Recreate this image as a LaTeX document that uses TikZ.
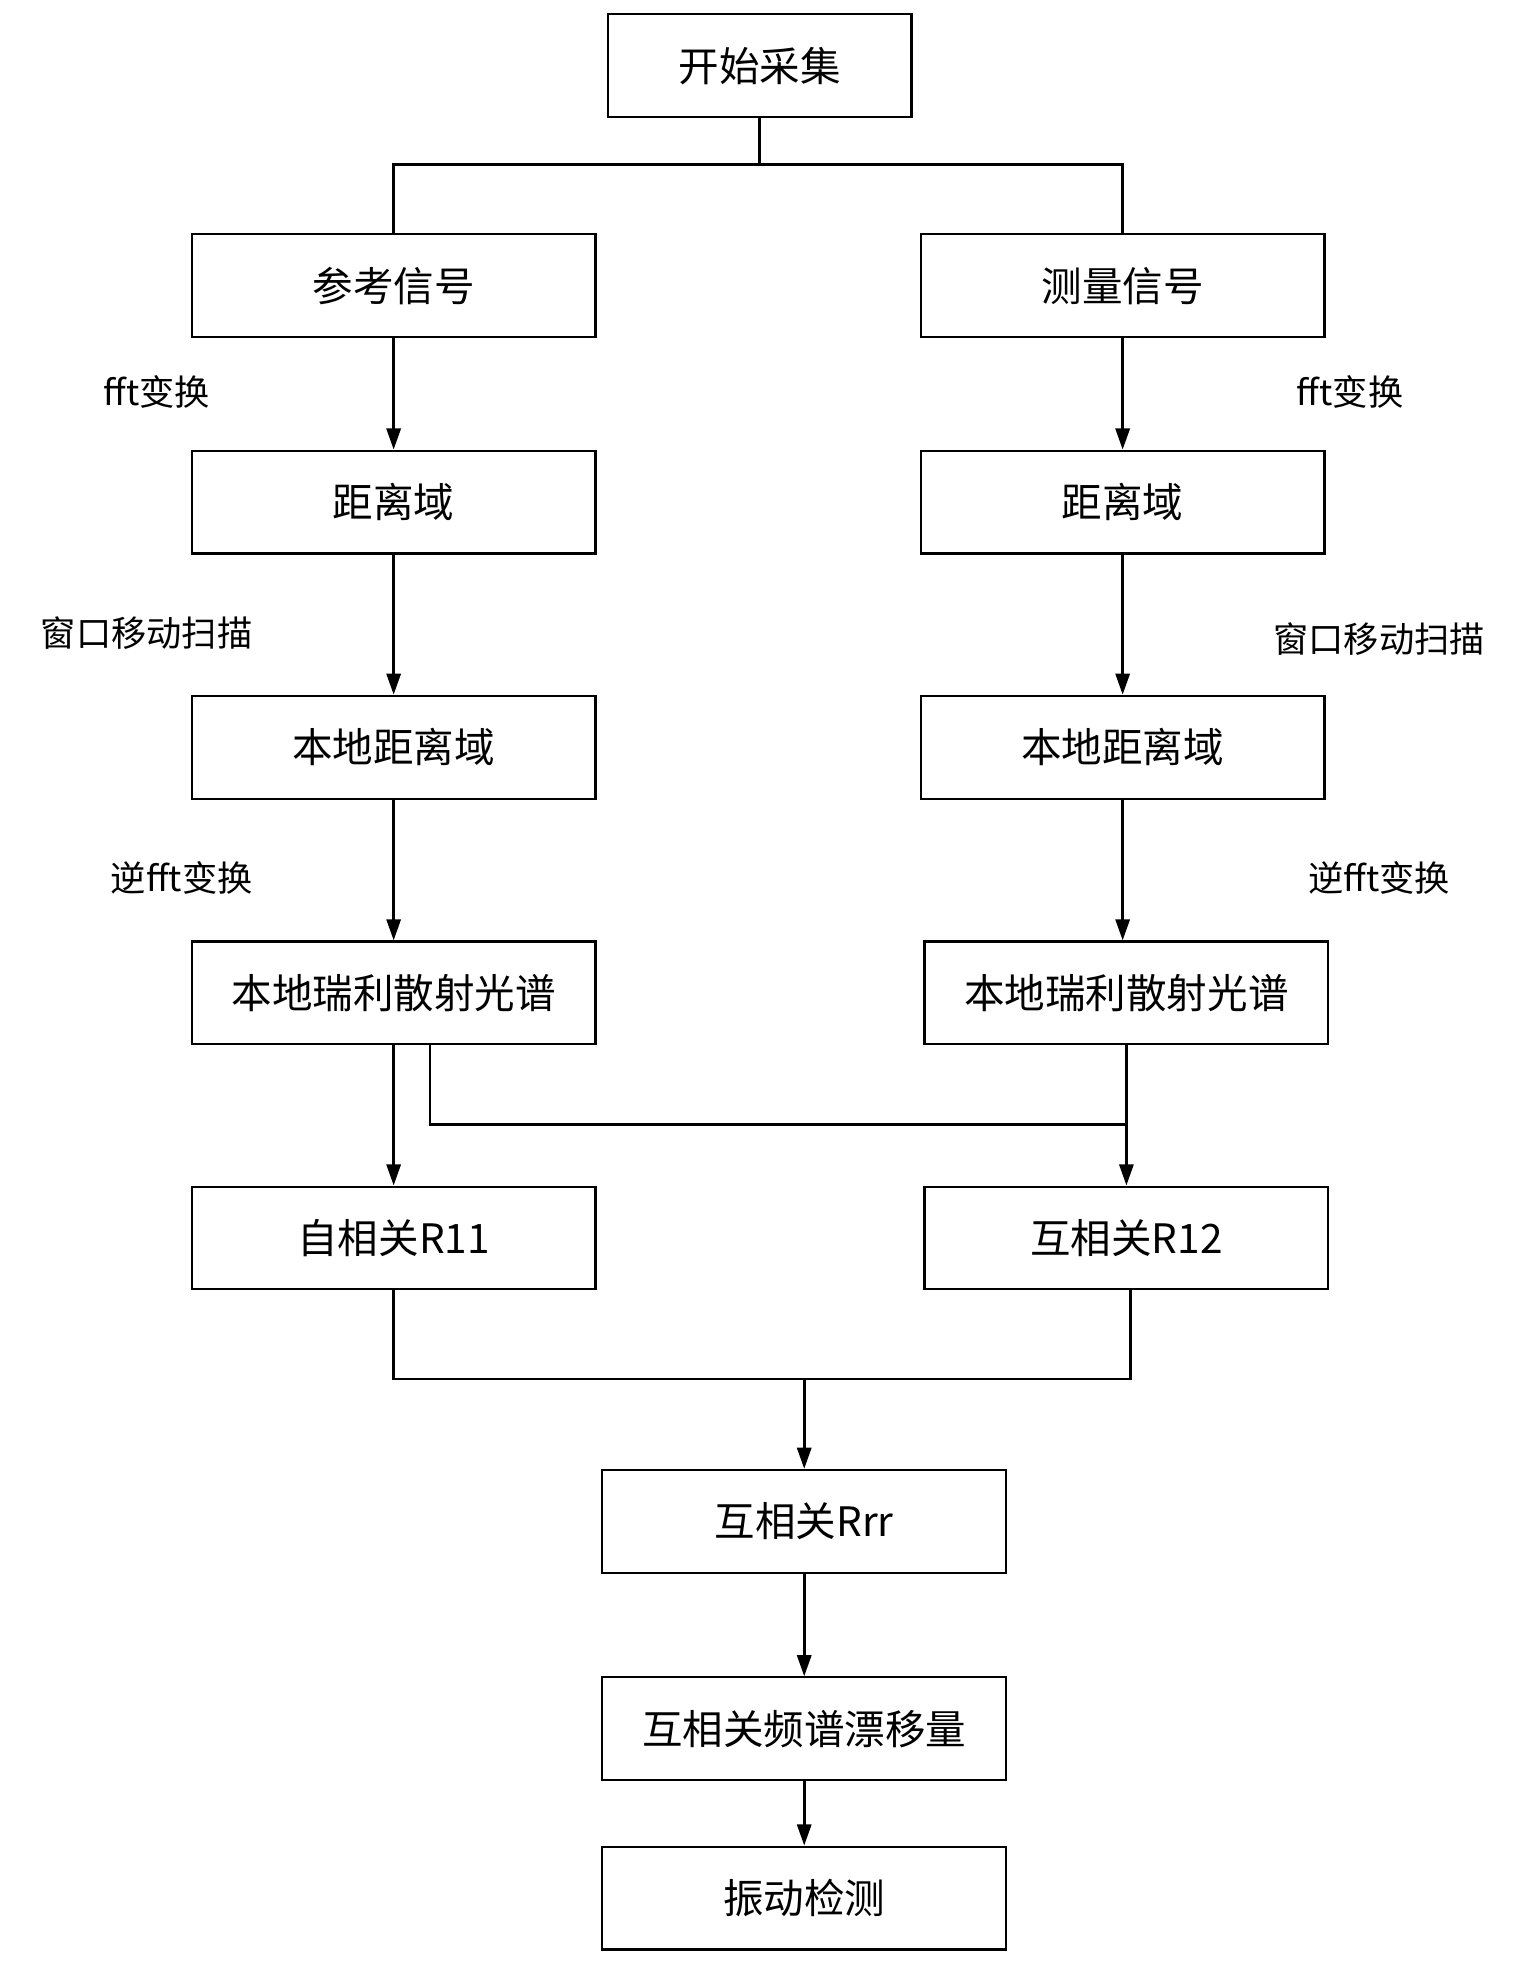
\documentclass[tikz,border=0pt]{standalone}
\usepackage{fontspec}
\setmainfont{Noto Sans CJK SC}
\usetikzlibrary{arrows.meta}
\begin{document}
\begin{tikzpicture}[x=0.025cm,y=-0.025cm,
 box/.style={draw,line width=1.2pt,minimum width=8.05cm,minimum height=2.05cm,inner sep=0pt,font=\fontsize{23}{26}\selectfont},
 lab/.style={font=\fontsize{20}{24}\selectfont},
 ln/.style={line width=1.6pt},
 arr/.style={ln,-{Triangle[length=12pt,width=8pt]}}]
\useasboundingbox (0,0) rectangle (1224,1577);
\node[box,minimum width=6.05cm] (s) at (606,52.5) {开始采集};
\node[box] (a1) at (314,228) {参考信号};
\node[box] (b1) at (895.5,228) {测量信号};
\node[box] (a2) at (314,400.5) {距离域};
\node[box] (b2) at (895.5,400.5) {距离域};
\node[box] (a3) at (314,596) {本地距离域};
\node[box] (b3) at (895.5,596) {本地距离域};
\node[box] (a4) at (314,792) {本地瑞利散射光谱};
\node[box] (b4) at (898.5,792) {本地瑞利散射光谱};
\node[box] (a5) at (314,987.5) {自相关R11};
\node[box] (b5) at (898.5,987.5) {互相关R12};
\node[box] (c1) at (641.5,1213.5) {互相关Rrr};
\node[box] (c2) at (641.5,1379) {互相关频谱漂移量};
\node[box] (c3) at (641.5,1514) {振动检测};
\node[lab] (l1) at (125,313) {fft变换};
\node[lab] (r1) at (1077,313) {fft变换};
\node[lab] (l2) at (117,505) {窗口移动扫描};
\node[lab] (r2) at (1100,510) {窗口移动扫描};
\node[lab] (l3) at (145,700) {逆fft变换};
\node[lab] (r3) at (1100,700) {逆fft变换};
\coordinate (j1) at (606,131);
\draw[ln] (s.south) -- (j1);
\draw[ln] (a1.north) -- (314,131) -- (895.5,131) -- (b1.north);
\draw[arr] (a1) -- (a2); \draw[arr] (b1) -- (b2);
\draw[arr] (a2) -- (a3); \draw[arr] (b2) -- (b3);
\draw[arr] (a3) -- (a4); \draw[arr] (b3.south) -- (b3.south|-b4.north);
\draw[arr] (a4) -- (a5);
\draw[ln] (343,833) -- (343,897) -- (898.5,897);
\draw[arr] (b4) -- (b5);
\draw[ln] (a5.south) -- (314,1100) -- (902,1100) -- (902,1028);
\coordinate (j2) at (641.5,1100);
\draw[arr] (j2) -- (c1.north);
\draw[arr] (c1) -- (c2);
\draw[arr] (c2) -- (c3);
\end{tikzpicture}
\end{document}
